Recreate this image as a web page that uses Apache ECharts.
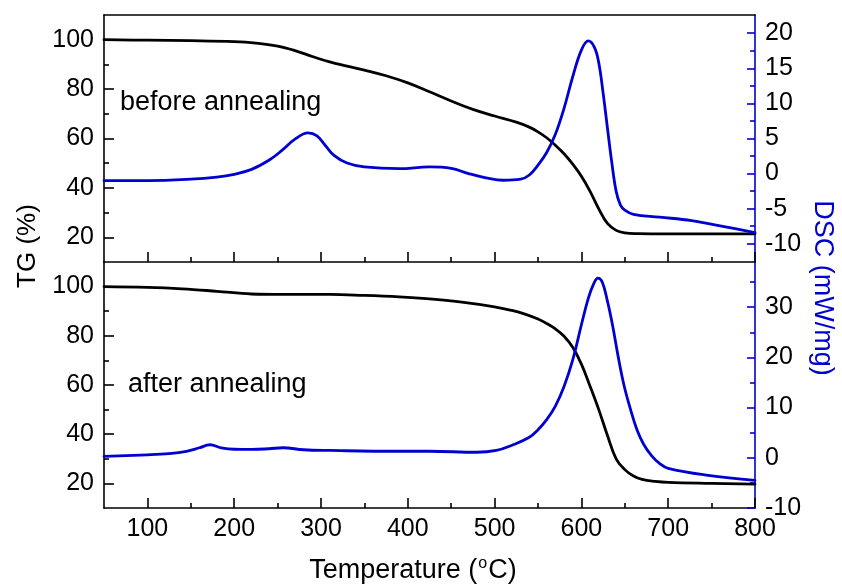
<!DOCTYPE html>
<html><head><meta charset="utf-8">
<script src="https://cdn.jsdelivr.net/npm/echarts@6/dist/echarts.min.js"></script>
<style>html,body{margin:0;padding:0;background:#fff}#c{width:842px;height:585px}</style>
</head><body><div id="c"></div>
<script>
// ---- data ----
const tempTopTG = [50,100,150,200,225,250,270,290,310,330,350,375,400,425,450,475,500,525,540,550,560,570,580,590,600,610,620,630,640,650,665,700,800];
const tgTop     = [100,99.8,99.6,99.2,98.6,97.4,95.6,93.2,91.0,89.3,87.7,85.4,82.5,78.9,75.2,71.8,69.1,66.6,64.6,62.7,60.3,57.3,53.8,49.6,44.7,38.6,31.5,25.6,22.8,21.8,21.5,21.4,21.4];

const tempTopDSC = [50,100,150,180,200,220,240,255,270,285,295,305,315,330,350,390,425,450,470,490,510,530,540,550,560,570,580,590,600,608,615,620,625,630,635,640,645,650,660,690,727,766,800];
const dscTop     = [-1.0,-1.0,-0.8,-0.5,-0.1,0.6,1.9,3.3,4.9,5.8,5.4,4.0,2.6,1.5,0.95,0.7,0.95,0.75,0.0,-0.6,-0.95,-0.8,-0.2,1.2,3.0,5.6,9.3,13.8,17.6,18.9,18.0,15.8,11.5,6.5,1.6,-2.5,-4.5,-5.2,-5.8,-6.2,-6.7,-7.6,-8.4];

const tempBotTG = [50,100,140,180,220,256,310,350,390,425,460,500,520,535,550,560,570,580,590,600,610,620,630,640,650,660,670,685,700,750,800];
const tgBot     = [100,99.7,99.1,98.1,97.0,96.8,96.8,96.4,95.8,95.0,93.8,91.8,90.3,88.8,86.8,85.0,82.8,79.8,75.3,68.5,59.5,50.0,39.5,30.0,25.6,23.0,21.6,20.8,20.4,20.0,19.7];

const tempBotDSC = [50,100,125,145,160,172,185,200,220,240,256,280,310,387,425,479,502,520,540,550,560,570,580,590,600,608,614,619,624,630,636,642,649,656,664,672,681,690,700,746,800];
const dscBot     = [0.3,0.6,0.85,1.3,2.0,2.6,2.0,1.7,1.66,1.8,2.0,1.6,1.46,1.3,1.3,1.1,1.46,2.5,4.1,5.6,7.6,10.3,14.2,19.5,26.5,31.8,34.6,35.8,35.0,31.2,26.3,20.5,14.5,10.0,5.6,2.6,0.4,-1.1,-2.1,-3.5,-4.5];

const xMajorTicks = [100,200,300,400,500,600,700,800];
const xMinorTicks = [150,250,350,450,550,650,750];
const tgMajorTicks = [20,40,60,80,100];
const tgMinorTicks = [30,50,70,90];
const dscTopMajor = [-10,-5,0,5,10,15,20];
const dscTopMinor = [-7.5,-2.5,2.5,7.5,12.5,17.5];
const dscBotMajor = [-10,0,10,20,30];
const dscBotMinor = [-5,5,15,25,35];

// ---- styling ----
const FONT = 'Liberation Sans, Arial, Helvetica, sans-serif';
const BLACK = '#000000';
const BLUE = '#0000d0';
const zip = (xs, ys) => xs.map((x, i) => [x, ys[i]]);

function xAx(grid, pos, ticks, len, labels, line) {
  return {
    type: 'value', gridIndex: grid, position: pos, min: 50, max: 800,
    axisLine: {show: line, onZero: false, lineStyle: {color: BLACK, width: 1.6}},
    axisTick: ticks ? {show: true, inside: true, length: len, customValues: ticks, lineStyle: {color: BLACK, width: 1.6}} : {show: false},
    axisLabel: labels ? {show: true, customValues: labels, fontSize: 25, fontFamily: FONT, color: BLACK, margin: 9} : {show: false},
    splitLine: {show: false}
  };
}
function yAx(grid, pos, min, max, ticks, len, labels, line, color) {
  return {
    type: 'value', gridIndex: grid, position: pos, min: min, max: max,
    axisLine: {show: line, onZero: false, lineStyle: {color: color, width: 1.6}},
    axisTick: {show: true, inside: true, length: len, customValues: ticks, lineStyle: {color: color, width: 1.6}},
    axisLabel: labels ? {show: true, customValues: labels, fontSize: 25, fontFamily: FONT, color: BLACK, margin: 10} : {show: false},
    splitLine: {show: false}
  };
}
function lineSeries(xi, yi, xs, ys, color) {
  return {type: 'line', xAxisIndex: xi, yAxisIndex: yi, data: zip(xs, ys), showSymbol: false,
    smooth: 0.4, lineStyle: {color: color, width: 2.8, join: 'round', cap: 'round'}, z: 3};
}

const chart = echarts.init(document.getElementById('c'), null, {renderer: 'canvas'});
chart.setOption({
  animation: false,
  backgroundColor: '#ffffff',
  grid: [
    {left: 104, right: 87, top: 15, height: 247, outerBoundsMode: 'none'},
    {left: 104, right: 87, top: 262, height: 246, outerBoundsMode: 'none'}
  ],
  xAxis: [
    xAx(0, 'bottom', xMajorTicks, 10, null, true),
    xAx(0, 'bottom', xMinorTicks, 5, null, false),
    xAx(0, 'top', null, 0, null, true),
    xAx(1, 'bottom', xMajorTicks, 10, xMajorTicks, true),
    xAx(1, 'bottom', xMinorTicks, 5, null, false)
  ],
  yAxis: [
    yAx(0, 'left', 10, 110, tgMajorTicks, 10, tgMajorTicks, true, BLACK),
    yAx(0, 'left', 10, 110, tgMinorTicks, 5, null, false, BLACK),
    yAx(0, 'right', -12.6, 22.6, dscTopMajor, 8, dscTopMajor, true, BLUE),
    yAx(0, 'right', -12.6, 22.6, dscTopMinor, 5, null, false, BLUE),
    yAx(1, 'left', 10, 110, tgMajorTicks, 10, tgMajorTicks, true, BLACK),
    yAx(1, 'left', 10, 110, tgMinorTicks, 5, null, false, BLACK),
    yAx(1, 'right', -10, 39, dscBotMajor, 8, dscBotMajor, true, BLUE),
    yAx(1, 'right', -10, 39, dscBotMinor, 5, null, false, BLUE)
  ],
  series: [
    lineSeries(0, 0, tempTopTG, tgTop, BLACK),
    lineSeries(0, 2, tempTopDSC, dscTop, BLUE),
    lineSeries(3, 4, tempBotTG, tgBot, BLACK),
    lineSeries(3, 6, tempBotDSC, dscBot, BLUE)
  ],
  graphic: [
    {type: 'text', left: 120, top: 89, style: {text: 'before annealing', fontSize: 27, fontFamily: FONT, fill: BLACK}},
    {type: 'text', left: 128, top: 371, style: {text: 'after annealing', fontSize: 27, fontFamily: FONT, fill: BLACK}},
    {type: 'text', x: 28, y: 246, rotation: Math.PI / 2, style: {text: 'TG (%)', fontSize: 26, fontFamily: FONT, fill: BLACK, align: 'center', verticalAlign: 'middle'}},
    {type: 'text', x: 822, y: 288, rotation: -Math.PI / 2, style: {text: 'DSC (mW/mg)', fontSize: 27, fontFamily: FONT, fill: BLUE, align: 'center', verticalAlign: 'middle'}},
    {type: 'text', x: 413, y: 571, style: {text: 'Temperature ({s|o}C)', fontSize: 27, fontFamily: FONT, fill: BLACK, align: 'center', verticalAlign: 'middle', lineHeight: 30,
      rich: {s: {fontSize: 16, fontFamily: FONT, fill: BLACK, verticalAlign: 'top', lineHeight: 12, padding: [0, 1, 0, 1]}}}}
  ]
});
</script>
</body></html>
